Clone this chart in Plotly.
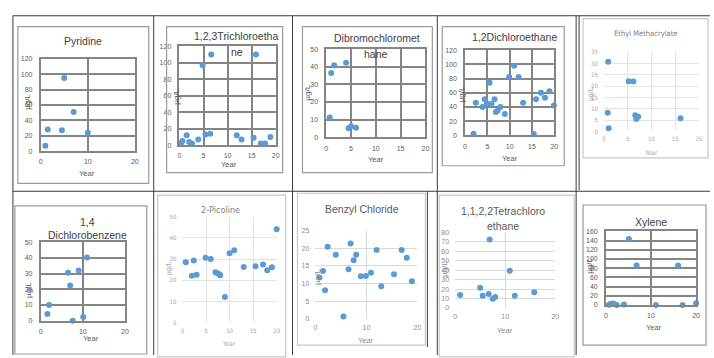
import plotly.graph_objects as go

W, H = 714, 358

# ---------------- data ----------------
pyr_x = [1, 1.5, 4.5, 5, 7, 10]
pyr_y = [7, 28, 27, 95, 51, 24]

tcp_x = [0.3, 0.6, 1.5, 2, 2.6, 3.9, 4.8, 5.4, 6.4, 6.6, 11.9, 12.9, 15.4, 15.9, 16.9, 17.8, 18.9]
tcp_y = [2, 5, 12, 4, 2, 7, 97, 13, 14, 110, 12, 7, 9, 110, 2, 2, 10]

dbcm_x = [0.7, 1.0, 1.6, 4.0, 4.5, 5.0, 6.0]
dbcm_y = [11.3, 36.5, 40.8, 42.3, 5.2, 6.3, 5.4]

dce_x = [1.9, 2.4, 3.9, 4.4, 4.9, 5.5, 5.9, 6.6, 6.9, 7.3, 7.9, 8.9, 9.9, 11.0, 12.0, 13.0, 15.4, 15.9, 17.0, 17.9, 18.9, 19.9]
dce_y = [2.3, 46, 40, 51, 45, 74, 44, 51, 33, 35, 40, 30, 82, 98, 82, 46, 2, 51, 60, 53, 62, 42]

em_x = [0.9, 0.8, 1.0, 5.2, 6.2, 6.6, 7.0, 6.8, 7.2, 16.1]
em_y = [30.7, 8.2, 1.4, 22.1, 22.0, 7.1, 6.5, 5.5, 6.5, 5.8]

dcb_x = [1.6, 2.0, 6.5, 7.0, 7.6, 9.0, 10.1, 11.0]
dcb_y = [4.2, 10, 30.6, 22.5, 0, 32, 2.3, 40.2]

pic_x = [0.7, 2.0, 2.4, 3.0, 4.9, 6.0, 7.0, 7.5, 7.8, 8.0, 9.0, 10.0, 11.0, 13.0, 15.5, 17.1, 18.0, 19.0, 20.0]
pic_y = [28.5, 22.1, 29.4, 22.6, 30.7, 30.0, 23.8, 23.2, 22.8, 22.4, 12.1, 32.8, 34.2, 26.3, 26.6, 27.4, 24.8, 26.2, 44.1]

bc_x = [0.8, 1.5, 1.9, 2.4, 4.0, 5.5, 6.5, 6.9, 7.5, 8.0, 8.9, 9.9, 10.9, 12.0, 12.9, 15.4, 16.9, 17.9, 18.9]
bc_y = [11.7, 13.5, 8.1, 20.4, 18.1, 0.6, 14.0, 21.3, 16.6, 18.1, 12.0, 12.1, 13.0, 19.5, 9.2, 12.6, 19.5, 17.3, 10.6]

tce_x = [1.0, 5.0, 5.5, 6.7, 6.9, 7.5, 8.0, 10.9, 11.9, 15.8]
tce_y = [13.8, 21.4, 12.8, 14.8, 72.4, 9.7, 11.7, 39.3, 12.8, 16.6]

xyl_x = [0.7, 1.1, 1.5, 1.8, 2.4, 4.0, 5.1, 6.8, 11.1, 16.0, 17.0, 20.0]
xyl_y = [0.5, 2, 3, 2, 0, 1, 143.6, 85.7, 0, 85.7, 0, 3.6]

titles = [["Pyridine"], ["1,2,3Trichloroetha", "ne"], ["Dibromochloromet", "hane"],
          ["1,2Dichloroethane"], ["Ethyl Methacrylate"], ["1,4", "Dichlorobenzene"],
          ["2-Picoline"], ["Benzyl Chloride"], ["1,1,2,2Tetrachloro", "ethane"], ["Xylene"]]
series = [(pyr_x, pyr_y), (tcp_x, tcp_y), (dbcm_x, dbcm_y), (dce_x, dce_y), (em_x, em_y),
          (dcb_x, dcb_y), (pic_x, pic_y), (bc_x, bc_y), (tce_x, tce_y), (xyl_x, xyl_y)]
y_max = [120, 120, 50, 120, 35, 50, 50, 25, 80, 160]
y_step = [20, 20, 10, 20, 5, 10, 10, 5, 10, 20]
x_step = [10, 5, 5, 5, 5, 10, 5, 10, 10, 10]
x_max = 20
y_label = "µg/L"
x_label = "Year"

# ---------------- layout geometry (pixels) ----------------
plot_px = [(39, 134, 56, 150), (179, 276, 43, 144), (327, 427, 46, 136), (467, 557, 47, 134),
           (607, 703, 49, 130), (39, 124, 243, 323), (182, 277, 217, 325), (316, 419, 231, 321),
           (457, 558, 233, 310), (609, 700, 232, 307)]
style = ["dark", "dark", "dark", "dark", "light", "dark", "light", "light2", "light2", "dark"]
frames = [(16, 23, 148, 183), (166, 23, 283, 172), (303, 23, 434, 172), (444, 23, 567, 165),
          (586, 15, 712, 157), (13, 206, 146, 357), (157, 195, 286, 360), (298, 193, 427, 348),
          (441, 195, 577, 360), (586, 205, 710, 348)]
title_pos = [[(82, 38)], [(236, 33), (237, 49)], [(378, 35), (377, 51)], [(517, 34)], [(649, 30)],
             [(86, 222), (86, 236)], [(220, 210)], [(363, 209)], [(505, 211), (505, 226)], [(655, 222)]]
title_size = [10.5, 10.5, 10.5, 10.5, 7.5, 10.5, 9, 10.5, 10.5, 10.5]
ylab_pos = [(25, 100), (176, 95), (308, 90), (463, 92), (594, 92), (27, 292), (168, 270),
            (318, 278), (446, 270), (593, 267)]
xlab_pos = [(86, 173), (229, 164), (377, 159), (512, 158), (655, 152), (90, 341), (229, 347),
            (367, 343), (507, 333), (658, 330)]


def px(x):
    return x / W


def py(y):
    return 1 - y / H


BLUE = "#5B9BD5"
FONT = "Liberation Sans, Arial, sans-serif"
NARROW = "Liberation Sans Narrow, DejaVu Sans Condensed, Liberation Sans, sans-serif"

fig = go.Figure()
layout = dict(width=W, height=H, margin=dict(l=0, r=0, t=0, b=0),
              paper_bgcolor="white", plot_bgcolor="white", showlegend=False)
annotations = []
shapes = []

for i, ((xs, ys), st) in enumerate(zip(series, style)):
    n = "" if i == 0 else str(i + 1)
    x0, x1, yt, yb = plot_px[i]
    if st == "dark":
        grid, gw, tcol, tsize, tfont, tcolor = "#858585", 1.6, "#595959", 7, FONT, "#404040"
        line = True
    elif st == "light":
        grid, gw, tcol, tsize, tfont, tcolor = "#e3e3e3", 1, "#a6a6a6", 6, NARROW, "#808080"
        line = False
    else:
        grid, gw, tcol, tsize, tfont, tcolor = "#d9d9d9", 1, "#8c8c8c", 7, FONT, "#595959"
        line = False
    fig.add_trace(go.Scatter(x=xs, y=ys, mode="markers", xaxis="x" + n, yaxis="y" + n,
                             marker=dict(color=BLUE, size=6), cliponaxis=False,
                             hoverinfo="x+y"))
    layout["xaxis" + n] = dict(domain=[px(x0), px(x1)], anchor="y" + n, range=[0, x_max],
                               dtick=x_step[i], tick0=0, showgrid=True, gridcolor=grid, gridwidth=gw,
                               zeroline=False, showline=line, mirror=line, linecolor=grid,
                               linewidth=gw, ticks="", tickfont=dict(size=tsize, color=tcol, family=tfont),
                               ticklabelstandoff=3, fixedrange=True)
    layout["yaxis" + n] = dict(domain=[py(yb), py(yt)], anchor="x" + n, range=[0, y_max[i]],
                               dtick=y_step[i], tick0=0, showgrid=True, gridcolor=grid, gridwidth=gw,
                               zeroline=False, showline=line, mirror=line, linecolor=grid,
                               linewidth=gw, ticks="", tickfont=dict(size=tsize, color=tcol, family=tfont),
                               ticklabelstandoff=5, fixedrange=True)
    for txt, (tx, ty) in zip(titles[i], title_pos[i]):
        annotations.append(dict(text=txt, x=px(tx), y=py(ty), xref="paper", yref="paper",
                                showarrow=False, xanchor="center", yanchor="middle",
                                font=dict(family=tfont, size=title_size[i], color=tcolor)))
    lx, ly = ylab_pos[i]
    annotations.append(dict(text=y_label, x=px(lx), y=py(ly), xref="paper", yref="paper",
                            showarrow=False, textangle=-90, xanchor="center", yanchor="middle",
                            font=dict(family=tfont, size=tsize + 1, color=tcol)))
    ax, ay = xlab_pos[i]
    annotations.append(dict(text=x_label, x=px(ax), y=py(ay), xref="paper", yref="paper",
                            showarrow=False, xanchor="center", yanchor="middle",
                            font=dict(family=tfont, size=tsize + 0.5, color=tcol)))
    fx0, fy0, fx1, fy1 = frames[i]
    shapes.append(dict(type="rect", xref="paper", yref="paper", x0=px(fx0), x1=px(fx1),
                       y0=py(fy1), y1=py(fy0),
                       line=dict(color="#9a9a9a" if st == "dark" else "#c8c8c8", width=1.2)))

cell_lines = [(11, 12, 714, 12), (11, 191, 714, 191), (11, 12, 11, 358), (153, 12, 153, 358),
              (293, 12, 293, 358), (439, 12, 439, 358), (429, 191, 429, 350), (579, 12, 579, 358),
              (582, 12, 582, 190)]
for (a, b, c, d) in cell_lines:
    shapes.append(dict(type="line", xref="paper", yref="paper", x0=px(a), y0=py(b), x1=px(c), y1=py(d),
                       line=dict(color="#3a3a3a", width=1)))

layout["annotations"] = annotations
layout["shapes"] = shapes
fig.update_layout(**layout)
fig.write_html("out.html", config={"displayModeBar": False},
               post_script="document.body.style.margin='0';document.body.style.overflow='hidden';")
